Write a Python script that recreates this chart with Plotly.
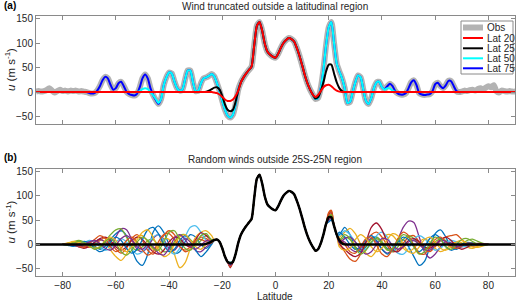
import plotly.graph_objects as go

# ---------------- data ----------------
LAT = list(range(-90, 91))

OBS = [
    1, 2, 1, 2, 4, 8, 3, -1, 2, 5,            # -90..-81
    2, 3, 1, 3, 2, 3, 1, 2, 1, 0,             # -80..-71
    -2, -3, -2, 3, 12, 24, 31, 28, 15, 5,     # -70..-61
    8, 18, 21, 12, 1, -4, -6, -7, -3, 10,     # -60..-51
    28, 36, 28, 8, -6, -16, -24, -14, 14, 30, # -50..-41
    40, 38, 22, 8, 3, 5, 25, 44, 44, 20,      # -40..-31
    2, 3, 18, 28, 30, 33, 37, 32, 18, 2,      # -30..-21
    -18, -36, -48, -52, -46, -25, 5, 20, 30, 38,  # -20..-11
    45, 52, 95, 135, 143, 125, 98, 82, 76, 72,    # -10..-1
    70,                                           # 0
    78, 90, 100, 106, 110, 108, 103, 90, 74, 55,  # 1..10
    35, 18, 5, -5, -14, -12, 8, 45, 95, 132,      # 11..20
    143, 100, 58, 42, 28, 8, -22, -20, 0, 20,     # 21..30
    34, 30, 5, -18, -24, -12, 8, 20, 21, 10,      # 31..40
    6, 12, 17, 12, 2, -3, -5, -5, -2, 8,          # 41..50
    20, 24, 14, -2, -5, -6, -5, -4, 2, 16,        # 51..60
    19, 12, 8, 14, 23, 22, 12, 2, 0, 1,           # 61..70
    3, 2, 4, 5, 3, 6, 8, 5, 9, 12,                # 71..80
    10, 14, 2, -1, 3, 2, 1, 2, 1, 1,              # 81..90
]

# truncated profiles: values read where they leave the observed curve
LAT20_S0, LAT20_SOUTH = -24, [0, -1, -2, -5, -10, -15, -18, -18, -15, -8, 3]
LAT20_N0, LAT20_NORTH = 15, [-10, -6, 2, 10, 14, 15, 12, 7, 3, 1, 0]
LAT25_S0, LAT25_SOUTH = -27, [0, 1, 3, 6, 9, 10, 5, -8, -25, -36, -39, -36, -20, 3]
LAT25_N0, LAT25_NORTH = 15, [-13, -10, 2, 20, 42, 56, 56, 38, 20, 8, 2, 0, 0]
LAT50_S0, LAT50_SOUTH = -53, [0, 0, 2, 6, 8, 6, 0, -6, -14, -22, -14]
LAT50_N0, LAT50_NORTH = 41, [5, 8, 7, 3, 1, 0, 0]
LAT75_S0, LAT75_SOUTH = -71, [0, -2, -3, -2]
LAT75_N0, LAT75_NORTH = 68, [2, 0, 0]

# random-wind experiments (panel b)
RAND_S_LAT = list(range(-80, -23, 2))   # -80..-24
RAND_N_LAT = list(range(24, 81, 2))     # 24..80
RAND_SOUTH = [
    [0, 1, -2, -4, 2, 5, -3, -10, -4, 10, 22, 28, 18, -10, -35, -43, -20, 25, 38, 25, 0, -18, -15, 5, 20, 15, 0, -8, 2],
    [0, 2, 3, 1, -3, -6, -2, 8, 14, 5, -10, -18, -8, 12, 20, 8, -12, -20, -5, 18, 28, 20, -2, -15, -10, 5, 15, 12, 5],
    [0, 3, 5, 3, -2, -5, 0, 10, 5, -12, -25, -33, -20, 0, 15, 18, 5, -10, -5, 12, 10, -20, -48, -38, -8, 15, 25, 28, 18],
    [0, 0, 1, -2, -5, -3, 5, 10, 5, -5, 15, 32, 30, 10, -10, -15, -5, 12, 20, 10, -8, -12, 2, 12, 5, -13, -15, -5, 4],
    [0, 2, 5, 8, 5, 0, -5, -8, 5, 20, 30, 32, 15, -5, -12, -5, 8, 10, -2, -15, -12, 5, 18, 20, 10, 0, 8, 18, 10],
    [0, -1, -3, -2, 3, 8, 5, -5, -12, -8, 5, 12, 5, -10, -20, -15, 0, 15, 20, 8, -12, -20, -8, 15, 35, 38, 25, 8, 5],
    [0, 1, -1, -5, -8, -4, 4, 12, 15, 8, -5, -12, -5, 8, 15, 10, -3, -15, -20, -12, 5, 15, 12, 0, -5, 10, 24, 18, 8],
    [0, -2, -4, 0, 6, 3, -8, -15, -10, 5, 15, 8, -8, -18, -10, 10, 30, 35, 22, 0, -15, -10, 8, 18, 8, -12, -25, -15, 0],
    [0, 1, 0, -4, -6, 2, 10, 18, 12, -5, -15, -8, 8, 15, 5, -12, -22, -15, 5, 20, 22, 10, -5, -12, -5, 8, 10, 5, 3],
    [0, 2, 6, 5, 0, -4, -8, -5, 8, 15, 8, -8, -15, -5, 10, 25, 30, 15, -10, -25, -20, 0, 15, 20, 8, -5, -10, 0, 5],
    [0, 0, -2, -3, 0, 5, 8, 2, -8, -12, -2, 12, 18, 10, -5, -10, 0, -5, -18, -22, -8, 12, 20, 10, -5, -10, -2, 8, 6],
    [0, -1, 2, 6, 4, -3, -10, -6, 6, 12, 2, -15, -22, -12, 5, 15, 8, -8, -12, 5, 25, 28, 10, -8, -12, 2, 18, 22, 8],
]
RAND_NORTH = [
    [20, 35, 20, -5, -15, -5, 12, 15, 5, -8, -10, 2, 10, -5, -25, -43, -35, -5, 22, 30, 15, -5, -10, -4, 3, 2, -1, 0, 0],
    [5, -15, -30, -35, -20, 5, 20, 25, 15, -2, -15, -12, 2, 15, 18, 5, -10, -15, -5, 8, 15, 18, 20, 10, 0, -4, -2, 0, 0],
    [15, 25, 33, 22, 0, -18, -25, -12, 8, 20, 18, 5, -8, -15, -8, 5, 12, 5, -8, -15, -10, 0, 5, 3, -5, -8, -4, -1, 0],
    [10, 5, -8, -15, -10, 5, 12, 5, -10, -18, -10, 10, 35, 48, 45, 15, -15, -28, -20, -5, 5, 3, -3, -5, -2, 1, 0, 0, 0],
    [8, 15, 10, -5, -12, -3, 10, 15, 5, -10, -15, -5, 10, 18, 12, 0, -8, -5, 5, 12, 8, -2, -6, 0, 8, 11, 6, 2, 0],
    [18, 28, 20, 5, -8, -10, 2, 18, 25, 15, -5, -18, -20, -8, 10, 18, 12, -2, -12, -8, 3, 8, 5, -3, -5, -2, 0, 0, 0],
    [0, -10, -20, -25, -18, 5, 35, 44, 30, 5, -12, -15, -5, 8, 12, 5, -5, -8, 0, 10, 15, 8, -5, -10, -6, 0, 2, 1, 0],
    [25, 15, 0, -10, -5, 10, 18, 8, -10, -20, -12, 5, 15, 10, -5, -15, -5, 12, 20, 12, -5, -12, -8, 0, 4, 3, 0, -1, 0],
    [12, 0, -15, -18, -5, 12, 15, -2, -20, -25, -10, 12, 25, 18, -2, -18, -20, -5, 10, 15, 5, -5, -8, -3, 2, 2, 0, 0, 0],
    [-5, -12, -8, 10, 20, 12, -5, -15, -8, 10, 22, 18, 0, -15, -18, -5, 10, 15, 5, -8, -12, -5, 5, 8, 2, -5, -6, -3, 0],
    [3, 12, 15, 5, -10, -20, -15, 0, 12, 10, -2, -10, -5, 5, 8, 0, -10, -12, -2, 8, 6, -2, -5, -2, 2, 1, 0, 0, 0],
    [10, 20, 12, -8, -20, -12, 5, 12, 2, -12, -8, 8, 20, 15, -5, -20, -15, 2, 15, 10, -5, -10, 0, 10, 12, 6, 0, -2, 0],
]
RAND_PEAK_N = [58, 70, 62, 55, 60, 52, 65, 50, 68, 57, 54, 61]       # maxima near 21N
RAND_TROUGH_S = [-42, -44, -40, -45, -38, -36, -48, -41, -46, -39, -43, -37]  # minima near 17S
RAND_COLORS = ["#0072BD", "#D95319", "#EDB120", "#7E2F8E", "#77AC30", "#4DBEEE",
               "#A2142F", "#0072BD", "#D95319", "#EDB120", "#7E2F8E", "#77AC30"]

SERIES_NAMES = ["Obs", "Lat 20", "Lat 25", "Lat 50", "Lat 75"]
SERIES_COLORS = ["#b3b3b3", "#ff0000", "#000000", "#00ffff", "#0000ff"]


def obs_at(lat):
    return OBS[lat + 90]


def truncated(s0, south, n0, north):
    vals = []
    s_end = s0 + len(south) - 1
    n_end = n0 + len(north) - 1
    for lat in LAT:
        if lat < s0 or lat > n_end:
            vals.append(0)
        elif lat <= s_end:
            vals.append(south[lat - s0])
        elif lat >= n0:
            vals.append(north[lat - n0])
        else:
            vals.append(obs_at(lat))
    return vals


U20 = truncated(LAT20_S0, LAT20_SOUTH, LAT20_N0, LAT20_NORTH)
U25 = truncated(LAT25_S0, LAT25_SOUTH, LAT25_N0, LAT25_NORTH)
U50 = truncated(LAT50_S0, LAT50_SOUTH, LAT50_N0, LAT50_NORTH)
U75 = truncated(LAT75_S0, LAT75_SOUTH, LAT75_N0, LAT75_NORTH)

# ---------------- geometry (pixels) ----------------
W, H = 518, 303
L, R, T, B = 36, 3, 16, 27
PW, PH = W - L - R, H - T - B


def px(x):
    return (x - L) / PW


def py(y):
    return (H - B - y) / PH


fig = go.Figure()

# panel (a)
fig.add_trace(go.Scatter(x=LAT, y=OBS, mode="lines",
                         line=dict(color=SERIES_COLORS[0], width=6, shape="spline", smoothing=0.6),
                         xaxis="x", yaxis="y", showlegend=False))
for vals, col in [(U75, SERIES_COLORS[4]), (U50, SERIES_COLORS[3]), (U25, SERIES_COLORS[2]), (U20, SERIES_COLORS[1])]:
    fig.add_trace(go.Scatter(x=LAT, y=vals, mode="lines",
                             line=dict(color=col, width=2, shape="spline", smoothing=0.6),
                             xaxis="x", yaxis="y", showlegend=False))

# panel (b)
mid_lat = list(range(-23, 24))
for i in range(len(RAND_SOUTH)):
    mid = []
    for lat in mid_lat:
        v = U25[lat + 90]
        if lat == 21:
            v = RAND_PEAK_N[i]
        elif lat == 20:
            v = RAND_PEAK_N[i] - 4
        elif lat == -17:
            v = RAND_TROUGH_S[i]
        mid.append(v)
    xs = RAND_S_LAT + mid_lat + RAND_N_LAT
    ys = RAND_SOUTH[i] + mid + RAND_NORTH[i]
    fig.add_trace(go.Scatter(x=xs, y=ys, mode="lines",
                             line=dict(color=RAND_COLORS[i], width=1.3, shape="spline", smoothing=0.8),
                             xaxis="x2", yaxis="y2", showlegend=False))
fig.add_trace(go.Scatter(x=LAT, y=U25, mode="lines",
                         line=dict(color="#000000", width=2.5, shape="spline", smoothing=0.6),
                         xaxis="x2", yaxis="y2", showlegend=False))

FONT = "Liberation Sans, Arial, sans-serif"
TXT = "#262626"
FRAME = "#8a8a8a"

axis_common = dict(showgrid=False, zeroline=False, showline=True, mirror="ticks", linecolor=FRAME,
                   linewidth=1, ticks="inside", ticklen=4, tickcolor=FRAME, tickwidth=1,
                   tickfont=dict(family=FONT, size=10, color=TXT))
xt = dict(range=[-90, 90], tickvals=[-80, -60, -40, -20, 0, 20, 40, 60, 80])
yt = dict(range=[-65, 155], tickvals=[-50, 0, 50, 100, 150])

ya_dom = [py(124), py(16)]
yb_dom = [py(276), py(169)]

fig.update_layout(
    width=W, height=H, margin=dict(l=L, r=R, t=T, b=B),
    paper_bgcolor="white", plot_bgcolor="white",
    font=dict(family=FONT, size=10, color=TXT),
    xaxis=dict(**axis_common, **xt, anchor="y", domain=[0, 1], showticklabels=False),
    yaxis=dict(**axis_common, **yt, anchor="x", domain=ya_dom),
    xaxis2=dict(**axis_common, **xt, anchor="y2", domain=[0, 1]),
    yaxis2=dict(**axis_common, **yt, anchor="x2", domain=yb_dom),
    showlegend=False,
)

ann = []
ann.append(dict(text="Wind truncated outside a latitudinal region", x=px(275), y=py(7), xref="paper", yref="paper",
                showarrow=False, xanchor="center", yanchor="middle", font=dict(size=10)))
ann.append(dict(text="Random winds outside 25S-25N region", x=px(275), y=py(159), xref="paper", yref="paper",
                showarrow=False, xanchor="center", yanchor="middle", font=dict(size=10)))
ann.append(dict(text="<b>(a)</b>", x=px(2), y=py(6), xref="paper", yref="paper",
                showarrow=False, xanchor="left", yanchor="middle", font=dict(size=10, color="#000")))
ann.append(dict(text="<b>(b)</b>", x=px(2), y=py(157), xref="paper", yref="paper",
                showarrow=False, xanchor="left", yanchor="middle", font=dict(size=10, color="#000")))
for yc in [70, 222.5]:
    ann.append(dict(text="<i>u</i> (m s<sup>-1</sup>)", x=px(10), y=py(yc), xref="paper", yref="paper",
                    showarrow=False, xanchor="center", yanchor="middle", textangle=-90, font=dict(size=11.5)))
ann.append(dict(text="Latitude", x=px(275), y=py(296.5), xref="paper", yref="paper",
                showarrow=False, xanchor="center", yanchor="middle", font=dict(size=10)))

shapes = [dict(type="rect", xref="paper", yref="paper", x0=px(461), x1=px(513), y0=py(74), y1=py(21),
               line=dict(color=FRAME, width=1), fillcolor="white", layer="above")]
leg_y = [27.5, 38, 48.3, 58.3, 68.3]
for name, col, yy in zip(SERIES_NAMES, SERIES_COLORS, leg_y):
    shapes.append(dict(type="line", xref="paper", yref="paper", x0=px(463), x1=px(483), y0=py(yy), y1=py(yy),
                       line=dict(color=col, width=6 if name == "Obs" else 2), layer="above"))
    ann.append(dict(text=name, x=px(485), y=py(yy), xref="paper", yref="paper", showarrow=False,
                    xanchor="left", yanchor="middle", font=dict(size=10)))

fig.update_layout(annotations=ann, shapes=shapes)
fig.write_html("out.html", config={"displayModeBar": False},
               post_script="document.body.style.margin='0';document.body.style.overflow='hidden';")
